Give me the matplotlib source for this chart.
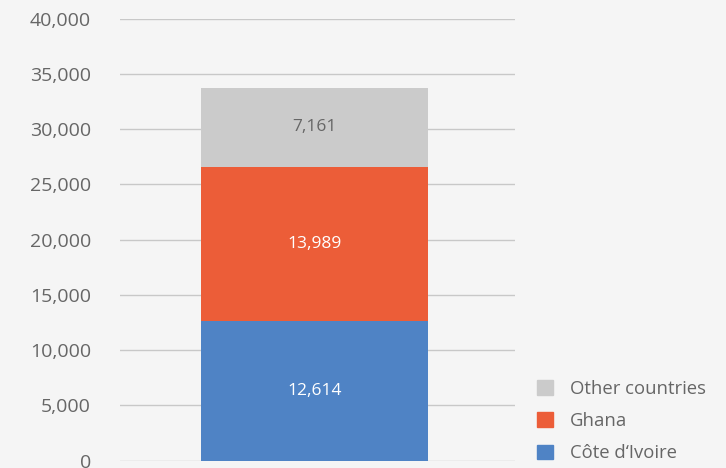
import matplotlib.pyplot as plt
from matplotlib.patches import Patch

plt.rcParams['font.family'] = ['Open Sans', 'DejaVu Sans']

# Данные
series = ['Côte d‘Ivoire', 'Ghana', 'Other countries']
values = [12614, 13989, 7161]
colors = ['#4f83c5', '#ec5d38', '#cbcbcb']
label_colors = ['white', 'white', '#666666']
yticks = [0, 5000, 10000, 15000, 20000, 25000, 30000, 35000, 40000]

fig = plt.figure(figsize=(7.26, 4.68), dpi=100, facecolor='#f5f5f5')
ax = fig.add_axes([120 / 726, 1 - 460.5 / 468, 395 / 726, 441.7 / 468])
ax.set_facecolor('#f5f5f5')

bottom = 0
for name, v, c, lc in zip(series, values, colors, label_colors):
    ax.bar(0, v, 0.575, bottom=bottom, color=c, zorder=3)
    ax.text(0, bottom + v / 2, f'{v:,}', ha='center', va='center',
            color=lc, fontsize=12.5, zorder=4)
    bottom += v

ax.set_xlim(-0.4924, 0.5076)
ax.set_ylim(0, 40000)
ax.set_yticks(yticks)
ax.set_yticklabels([f'{t:,}' for t in yticks])
ax.set_xticks([])
ax.grid(axis='y', color='#c8c8c8', linewidth=1, zorder=0)
ax.tick_params(axis='y', length=0, pad=21, labelsize=14, labelcolor='#666666')
for s in ax.spines.values():
    s.set_visible(False)

handles = [Patch(color=c, label=n) for n, c in zip(series, colors)][::-1]
fig.legend(handles=handles, loc='lower left', bbox_to_anchor=(520 / 726, -11 / 468),
           frameon=False, fontsize=13.3, labelcolor='#666666',
           handlelength=0.87, handleheight=0.87, handletextpad=0.95,
           labelspacing=0.77)

fig.savefig('out.png', dpi=100, facecolor=fig.get_facecolor())
